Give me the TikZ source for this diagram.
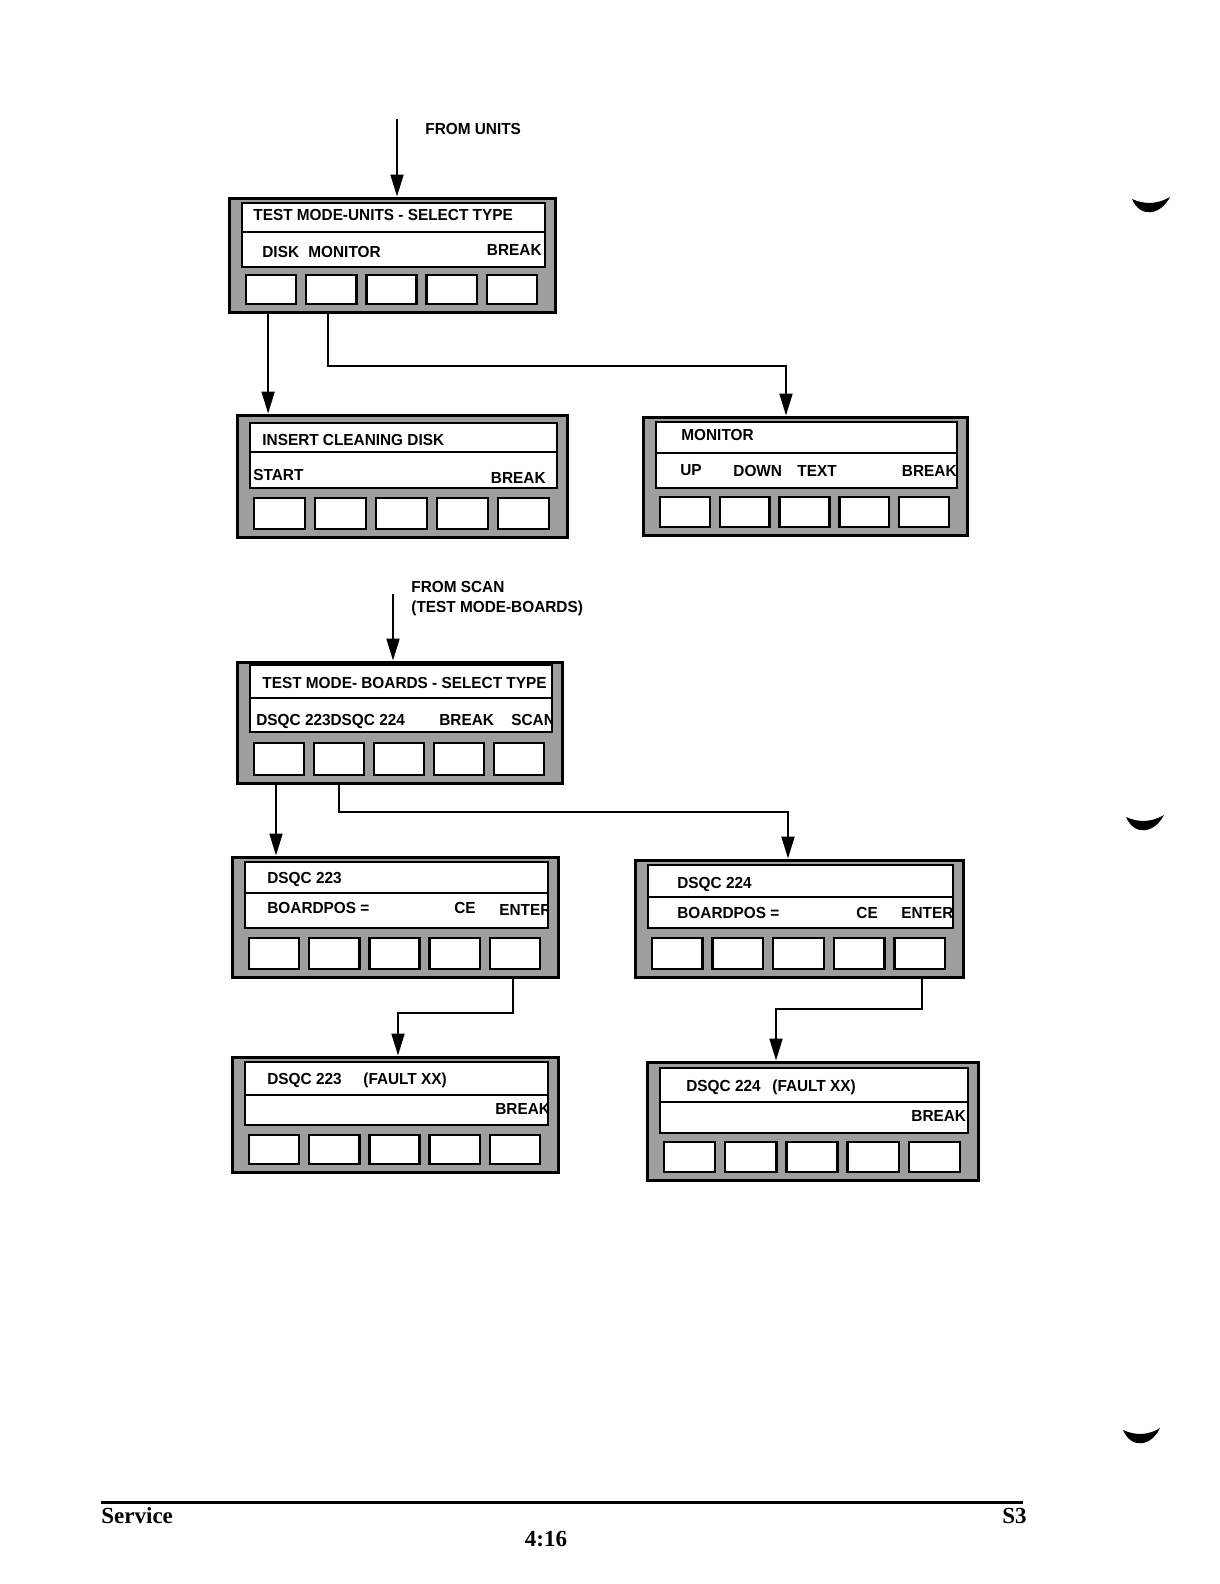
\documentclass[tikz,border=0pt]{standalone}
\usepackage{fontspec}
\setmainfont{Liberation Serif}
\newfontfamily\lcd[FakeStretch=0.96]{Liberation Sans}
\usetikzlibrary{fit,arrows.meta}
\tikzset{
  panelbox/.style={draw=black, fill=black!38, line width=1.5pt, inner sep=0pt},
  dispbox/.style={draw=black, fill=white, line width=1pt, inner sep=0pt},
  divline/.style={line width=1pt},
  keybox/.style={draw=black, fill=white, line width=1.2pt, inner sep=0pt},
  lcdtxt/.style={font=\lcd\bfseries\fontsize{8}{9}\selectfont, inner sep=0pt, text height=5.8pt, text depth=0pt, anchor=west},
  lcdr/.style={lcdtxt, anchor=east},
  conn/.style={line width=1pt},
  arr/.style={line width=1pt, -{Triangle[length=11pt,width=6.5pt]}},
  foot/.style={font=\bfseries\fontsize{11.5}{13}\selectfont, inner sep=0pt},
}
% id, x0, y0, x1, y1, display top, divider, display bottom, keys top
\newcommand\lcdpanel[9]{%
  \node[panelbox, fit={(#2,#3) (#4,#5)}] (#1) {};
  \node[dispbox, fit={({#2+13},#6) ({#4-10},#8)}] (#1d) {};
  \draw[divline] (#1d.west |- 0,#7) -- (#1d.east |- 0,#7);
  \pgfmathsetmacro\kw{(#4-18-#2-17-40)/5}
  \foreach \k in {1,...,5} {
    \pgfmathsetmacro\kl{#2+17+(\k-1)*(\kw+10)}
    \pgfmathsetmacro\kr{\kl+\kw}
    \node[keybox, fit={(\kl,#9) (\kr,{#5-8})}] (#1k\k) {};
  }
}
\begin{document}
\begin{tikzpicture}[x=0.5pt, y=-0.5pt]
\useasboundingbox (0,0) rectangle (1220,1584);
\fill[white] (0,0) rectangle (1220,1584);

% ---------- panels ----------
\lcdpanel{p1}{229}{198}{555}{312}{203}{232}{267}{275}
\lcdpanel{p2}{237}{415}{567}{537}{423}{452}{488}{498}
\lcdpanel{p3}{643}{417}{967}{535}{422}{453}{488}{497}
\lcdpanel{p4}{237}{662}{562}{783}{665}{698}{732}{743}
\lcdpanel{p5}{232}{857}{558}{977}{862}{893}{928}{938}
\lcdpanel{p6}{635}{860}{963}{977}{865}{897}{928}{938}
\lcdpanel{p7}{232}{1057}{558}{1172}{1062}{1095}{1125}{1135}
\lcdpanel{p8}{647}{1062}{978}{1180}{1068}{1102}{1133}{1142}

% ---------- texts ----------
\begin{scope}
\clip ([shift={(0.6pt,0.6pt)}]p1d.south west) rectangle ([shift={(-0.6pt,-0.6pt)}]p1d.north east);
\node[lcdtxt] (t1a) at (253,215) {TEST MODE-UNITS - SELECT TYPE};
\node[lcdtxt] (t1b) at (262,252) {DISK};
\node[lcdtxt] (t1c) at (308,252) {MONITOR};
\node[lcdr]   (t1d) at (542,250) {BREAK};
\end{scope}
\begin{scope}
\clip ([shift={(0.6pt,0.6pt)}]p2d.south west) rectangle ([shift={(-0.6pt,-0.6pt)}]p2d.north east);
\node[lcdtxt] (t2a) at (262,440) {INSERT CLEANING DISK};
\node[lcdtxt] (t2b) at (253,475) {START};
\node[lcdr]   (t2c) at (546,478) {BREAK};
\end{scope}
\begin{scope}
\clip ([shift={(0.6pt,0.6pt)}]p3d.south west) rectangle ([shift={(-0.6pt,-0.6pt)}]p3d.north east);
\node[lcdtxt] (t3a) at (681,435) {MONITOR};
\node[lcdtxt] (t3b) at (680,470) {UP};
\node[lcdtxt] (t3c) at (733,471) {DOWN};
\node[lcdtxt] (t3d) at (797,471) {TEXT};
\node[lcdr]   (t3e) at (957,471) {BREAK};
\end{scope}
\begin{scope}
\clip ([shift={(0.6pt,0.6pt)}]p4d.south west) rectangle ([shift={(-0.6pt,-0.6pt)}]p4d.north east);
\node[lcdtxt] (t4a) at (262,683) {TEST MODE- BOARDS - SELECT TYPE};
\node[lcdtxt] (t4b) at (256,720) {DSQC 223DSQC 224};
\node[lcdtxt] (t4c) at (439,720) {BREAK};
\node[lcdtxt] (t4d) at (511,720) {SCAN};
\end{scope}
\begin{scope}
\clip ([shift={(0.6pt,0.6pt)}]p5d.south west) rectangle ([shift={(-0.6pt,-0.6pt)}]p5d.north east);
\node[lcdtxt] (t5a) at (267,878) {DSQC 223};
\node[lcdtxt] (t5b) at (267,908) {BOARDPOS =};
\node[lcdtxt] (t5c) at (454,908) {CE};
\node[lcdtxt] (t5d) at (499,910) {ENTER};
\end{scope}
\begin{scope}
\clip ([shift={(0.6pt,0.6pt)}]p6d.south west) rectangle ([shift={(-0.6pt,-0.6pt)}]p6d.north east);
\node[lcdtxt] (t6a) at (677,883) {DSQC 224};
\node[lcdtxt] (t6b) at (677,913) {BOARDPOS =};
\node[lcdtxt] (t6c) at (856,913) {CE};
\node[lcdtxt] (t6d) at (901,913) {ENTER};
\end{scope}
\begin{scope}
\clip ([shift={(0.6pt,0.6pt)}]p7d.south west) rectangle ([shift={(-0.6pt,-0.6pt)}]p7d.north east);
\node[lcdtxt] (t7a) at (267,1079) {DSQC 223};
\node[lcdtxt] (t7b) at (363,1079) {(FAULT XX)};
\node[lcdtxt] (t7c) at (495,1109) {BREAK};
\end{scope}
\begin{scope}
\clip ([shift={(0.6pt,0.6pt)}]p8d.south west) rectangle ([shift={(-0.6pt,-0.6pt)}]p8d.north east);
\node[lcdtxt] (t8a) at (686,1086) {DSQC 224};
\node[lcdtxt] (t8b) at (772,1086) {(FAULT XX)};
\node[lcdtxt] (t8c) at (911,1116) {BREAK};
\end{scope}

% ---------- labels ----------
\node[lcdtxt] (fromunits) at (425,129) {FROM UNITS};
\node[lcdtxt] (fromscan) at (411,587) {FROM SCAN};
\node[lcdtxt] (fromscanb) at (411,607) {(TEST MODE-BOARDS)};

% ---------- connectors ----------
\coordinate (inunits) at (397,119);
\coordinate (inscan) at (393,594);
\coordinate (b3) at (786,366);
\coordinate (b6) at (788,812);
\coordinate (b7) at (398,1013);
\coordinate (b8) at (776,1009);

\draw[arr] (inunits) -- (inunits |- p1.north);
\draw[arr] ([xshift=-1.5pt]p1k1.south |- p1.south) -- ([xshift=-1.5pt]p1k1.south |- p2.north);
\draw[arr] ([xshift=-1.5pt]p1k2.south |- p1.south) |- (b3) -- (b3 |- p3.north);
\draw[arr] (inscan) -- (inscan |- p4.north);
\draw[arr] ([xshift=-1.5pt]p4k1.south |- p4.south) -- ([xshift=-1.5pt]p4k1.south |- p5.north);
\draw[arr] (p4k2.south |- p4.south) |- (b6) -- (b6 |- p6.north);
\draw[arr] ([xshift=-1pt]p5k5.south |- p5.south) |- (b7) -- (b7 |- p7.north);
\draw[arr] ([xshift=1pt]p6k5.south |- p6.south) |- (b8) -- (b8 |- p8.north);

% ---------- footer ----------
\coordinate (footL) at (101,1502);
\coordinate (footR) at (1023,1502);
\draw[line width=1.5pt] (footL) -- (footR);
\node[foot, anchor=base west] (fservice) at (101,1523) {Service};
\node[foot, anchor=base east] (fs3) at (1027,1523) {S3};
\node[foot, anchor=base] (fpage) at (546,1546) {4:16};

% ---------- binder marks ----------
\fill (1132,199) .. controls (1140,218) and (1160,216) .. (1170,197)
      .. controls (1158,204) and (1145,205) .. cycle;
\fill (1126,817) .. controls (1134,836) and (1154,834) .. (1164,815)
      .. controls (1152,822) and (1139,823) .. cycle;
\fill (1123,1430) .. controls (1131,1449) and (1151,1447) .. (1160,1428)
      .. controls (1149,1435) and (1136,1436) .. cycle;
\end{tikzpicture}
\end{document}
